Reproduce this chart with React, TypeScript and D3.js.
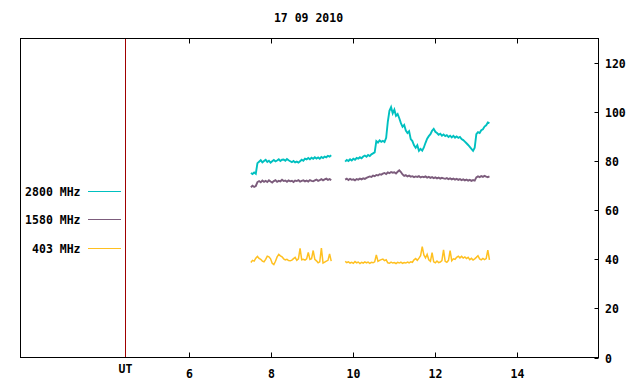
import React from "react";
import * as d3 from "d3";

const titleText = "17 09 2010";
const xTicks = [6, 8, 10, 12, 14];
const yTicks = [0, 20, 40, 60, 80, 100, 120];
const utPosition = 4.45;
const xDomain = [1.9, 16];
const yDomain = [0, 130];

const sampleStep = 0.04;
const seg1Start = 7.52;
const seg2Start = 9.82;

const mhz2800Seg1 = [75.2, 74.8, 75.4, 74.9, 79.2,
  79.8, 80.4, 79.5, 80.1, 80.6, 79.7, 80.2, 79.4, 80.0, 80.5, 79.9, 80.3, 80.8, 80.1, 80.6,
  80.7, 80.2, 80.9, 80.4, 80.0, 79.6, 80.1, 79.5, 79.8, 79.4, 80.0,
  80.6, 80.2, 81.0, 80.7, 81.3, 80.8, 81.4, 81.0, 81.6, 81.1, 81.5, 81.0, 81.7, 81.3, 81.9, 81.6, 82.2, 81.9, 82.4];
const mhz2800Seg2 = [79.8, 80.5, 80.1, 80.8, 80.3, 81.0, 80.6, 81.3, 81.0, 81.6, 81.2, 81.9, 82.3, 81.8, 82.5, 82.1, 82.8, 83.2, 83.6,
  88.2, 87.6, 88.5, 87.9, 88.3, 87.8,
  89.5, 96.0, 100.5, 102.0, 99.5, 101.0, 98.5, 99.2, 97.5,
  95.5, 94.0, 94.8, 92.5, 91.5, 92.2, 89.0, 88.2, 86.5, 85.5, 86.5, 84.2, 85.0,
  84.3, 85.6, 87.5, 89.2, 90.2, 91.0, 92.4, 93.2, 92.0, 91.5, 90.8, 91.2, 90.4, 90.9, 90.2, 90.6, 89.9, 90.4, 89.7, 90.3, 89.6, 90.1, 89.5, 89.9,
  89.0, 88.6, 88.0, 87.3, 86.6, 85.8, 85.0, 84.2, 85.5,
  91.0, 91.8, 91.5, 92.6, 93.0, 94.1, 94.6, 95.8, 95.5];

const mhz1580Seg1 = [69.4, 70.0, 69.5, 69.9, 71.5,
  71.9, 71.4, 72.1, 71.6, 72.0, 71.5, 72.2, 71.7, 71.3, 71.9,
  72.3, 71.6, 72.0, 71.8, 72.4, 71.9, 72.1, 71.6, 72.2, 71.8,
  72.0, 71.5, 72.1, 71.9, 72.3, 71.7, 72.0, 72.2, 71.8, 72.1,
  71.7, 72.3, 72.0, 71.8, 72.2, 72.5, 72.0, 72.3, 72.7, 72.2,
  72.6, 72.9, 72.4, 72.7, 72.3];
const mhz1580Seg2 = [72.5, 72.9, 72.3, 72.8, 72.4, 72.6, 72.2, 72.7, 72.5, 72.9,
  72.6, 73.0, 72.8, 73.2, 73.5, 73.8,
  73.6, 74.1, 73.9, 74.4, 74.2, 74.7, 74.5,
  74.9, 75.2, 74.8, 75.4, 75.1, 75.6, 75.3, 75.5, 75.0, 75.7, 76.3, 75.6,
  74.6, 74.0, 74.3, 73.8, 74.1, 73.7,
  73.9, 73.5, 73.8, 73.6, 73.9, 73.4, 73.7, 73.5, 73.8, 73.3, 73.6, 73.2, 73.5, 73.1, 73.4, 73.0, 73.3, 72.9, 73.2, 73.0,
  72.8, 73.1, 72.7, 73.0, 72.6, 72.9, 72.5, 72.8, 72.4, 72.7, 72.3, 72.6, 72.2, 72.5, 72.1, 72.4, 72.0, 72.3, 72.1,
  73.4, 73.8, 73.5, 73.9, 73.6, 74.0, 73.7, 73.5, 73.8];

const mhz403Seg1 = [38.7, 39.6, 39.3, 40.5, 41.2, 40.4, 40.0, 39.3, 39.0, 40.0,
  41.3, 41.0, 40.2, 38.4, 37.9, 39.2, 41.0, 42.0, 41.4, 41.0,
  40.2, 39.8, 40.0, 39.5, 39.4, 39.7, 40.3, 40.8, 39.6, 40.2,
  44.5, 39.8, 40.0, 39.7, 40.2, 42.8, 40.0, 40.3, 43.6, 40.0,
  39.4, 38.6, 39.0, 44.6, 38.5, 38.9, 39.3, 39.6, 42.2, 39.3];
const mhz403Seg2 = [39.2, 38.7, 39.0, 38.5, 38.8, 38.4, 39.1, 38.6, 38.9, 38.3, 38.8, 38.5, 39.0, 38.6, 38.9, 38.4, 38.8, 38.6, 39.0,
  41.8, 39.2, 39.6, 39.9, 40.1, 39.5, 39.8, 38.6,
  38.4, 38.9, 38.5, 38.7, 38.3, 38.8, 38.5, 38.9, 38.4, 38.7, 38.5, 38.9, 38.6, 39.0, 38.8,
  39.8, 40.3, 39.6, 40.5, 41.5, 45.2, 41.8, 40.6, 42.0, 39.8, 39.2, 42.7, 39.0, 38.6,
  39.3, 38.7, 38.9, 39.5, 43.9, 39.2, 38.8, 39.6, 43.6, 39.4,
  40.2, 40.0, 40.8, 41.3, 40.6, 41.2, 40.5, 41.0, 40.3, 40.8,
  39.9, 40.4, 39.7, 40.2, 40.8, 41.5, 40.2, 39.8, 40.4, 39.9, 40.3, 43.8, 39.8];

const seriesNames = ["2800 MHz", "1580 MHz", "403 MHz"];
const seriesColors = ["#00c0c0", "#7c5c7c", "#ffc020"];
const seriesWidths = [1.9, 1.9, 1.5];
const seriesData = [
  [mhz2800Seg1, mhz2800Seg2],
  [mhz1580Seg1, mhz1580Seg2],
  [mhz403Seg1, mhz403Seg2],
];
const segStarts = [seg1Start, seg2Start];

const W = 640;
const H = 384;
const left = 20.5;
const right = 598.5;
const top = 38.5;
const bottom = 357.5;

export default function App() {
  const x = d3.scaleLinear().domain(xDomain).range([left, right]);
  const y = d3.scaleLinear().domain(yDomain).range([bottom, top]);
  const line = d3
    .line<[number, number]>()
    .x((d) => x(d[0]))
    .y((d) => y(d[1]));

  const font = {
    fontFamily: "'DejaVu Sans Mono', monospace",
    fontWeight: "bold" as const,
    fontSize: 11.5,
    fill: "#000",
  };
  const legendY = [191.5, 219.5, 248.5];
  const utX = Math.round(x(utPosition)) + 0.5;

  return (
    <svg
      width={W}
      height={H}
      style={{ position: "absolute", left: 0, top: 0, background: "#fff" }}
    >
      <rect x={0} y={0} width={W} height={H} fill="#fff" />
      <text x={308.5} y={22} textAnchor="middle" {...font}>
        {titleText}
      </text>
      {seriesData.map((segs, si) =>
        segs.map((vals, gi) => (
          <path
            key={`${si}-${gi}`}
            d={line(vals.map((v, i) => [segStarts[gi] + i * sampleStep, v]))!}
            fill="none"
            stroke={seriesColors[si]}
            strokeWidth={seriesWidths[si]}
            strokeLinejoin="miter"
          />
        ))
      )}
      <line x1={utX} x2={utX} y1={top} y2={bottom} stroke="#a00000" strokeWidth={1} />
      <rect
        x={left}
        y={top}
        width={right - left}
        height={bottom - top}
        fill="none"
        stroke="#000"
        strokeWidth={1}
      />
      {xTicks.map((t) => {
        const px = Math.round(x(t)) + 0.5;
        return (
          <g key={t}>
            <line x1={px} x2={px} y1={bottom} y2={bottom - 5} stroke="#000" />
            <line x1={px} x2={px} y1={top} y2={top + 5} stroke="#000" />
            <text x={px} y={378} textAnchor="middle" {...font}>
              {t}
            </text>
          </g>
        );
      })}
      <text x={utX} y={373} textAnchor="middle" {...font}>
        UT
      </text>
      {yTicks.map((t) => {
        const py = Math.round(y(t)) + 0.5;
        return (
          <g key={t}>
            <line x1={right - 4} x2={right} y1={py} y2={py} stroke="#000" />
            <text x={605} y={py + 4} textAnchor="start" {...font}>
              {t}
            </text>
          </g>
        );
      })}
      {seriesNames.map((n, i) => (
        <g key={n}>
          <text x={80.5} y={legendY[i] + 4} textAnchor="end" {...font}>
            {n}
          </text>
          <line x1={88} x2={121} y1={legendY[i]} y2={legendY[i]} stroke={seriesColors[i]} />
        </g>
      ))}
    </svg>
  );
}
